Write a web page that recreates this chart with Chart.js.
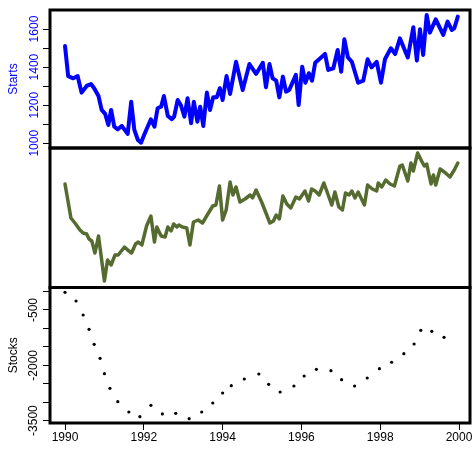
<!DOCTYPE html>
<html>
<head>
<meta charset="utf-8">
<script src="https://cdn.jsdelivr.net/npm/chart.js@4.4.0/dist/chart.umd.min.js"></script>
<style>
  html, body { margin: 0; padding: 0; background: #fff; }
</style>
</head>
<body>
<canvas id="panels" width="474" height="449"></canvas>
<script>
// housing starts (top panel)
var startsYears = [1990.00,1990.08,1990.21,1990.32,1990.42,1990.55,1990.66,1990.74,1990.85,1990.93,
  1991.02,1991.10,1991.17,1991.25,1991.34,1991.44,1991.59,1991.68,1991.76,1991.85,
  1991.93,1992.01,1992.18,1992.27,1992.35,1992.44,1992.51,1992.61,1992.71,1992.77,
  1992.86,1992.94,1993.03,1993.11,1993.20,1993.27,1993.36,1993.43,1993.51,1993.60,
  1993.68,1993.76,1993.85,1993.93,1994.00,1994.10,1994.19,1994.34,1994.51,1994.68,
  1994.85,1995.02,1995.10,1995.19,1995.27,1995.36,1995.44,1995.53,1995.61,1995.69,
  1995.86,1995.93,1996.02,1996.10,1996.19,1996.27,1996.35,1996.60,1996.68,1996.81,
  1996.92,1997.01,1997.09,1997.18,1997.28,1997.44,1997.57,1997.68,1997.78,1997.91,
  1998.02,1998.12,1998.27,1998.38,1998.50,1998.70,1998.84,1998.93,1999.01,1999.09,
  1999.18,1999.26,1999.41,1999.60,1999.71,1999.82,1999.88,1999.97];
var startsValues = [1511,1353,1341,1353,1266,1301,1311,1289,1248,1175,
  1154,1096,1175,1087,1073,1091,1049,1218,1070,1017,
  1003,1044,1126,1087,1184,1192,1248,1143,1126,1140,
  1227,1201,1140,1236,1105,1218,1113,1192,1091,1266,
  1175,1241,1241,1289,1227,1353,1259,1428,1280,1416,
  1364,1423,1294,1416,1341,1329,1241,1350,1271,1280,
  1359,1201,1402,1318,1368,1329,1423,1469,1385,1394,
  1490,1376,1546,1451,1428,1318,1329,1441,1399,1428,
  1318,1441,1499,1469,1551,1451,1609,1434,1599,1464,
  1674,1581,1651,1569,1639,1595,1604,1665];

// middle panel series (no axis shown)
var middleYears = [1990.00,1990.15,1990.27,1990.38,1990.46,1990.55,1990.61,1990.68,1990.76,1990.85,
  1990.93,1991.00,1991.08,1991.17,1991.27,1991.35,1991.51,1991.59,1991.69,1991.79,
  1991.86,1991.95,1992.07,1992.18,1992.27,1992.33,1992.44,1992.54,1992.61,1992.69,
  1992.76,1992.84,1992.89,1992.98,1993.09,1993.17,1993.26,1993.38,1993.49,1993.64,
  1993.75,1993.83,1993.92,1994.00,1994.09,1994.19,1994.26,1994.34,1994.44,1994.57,
  1994.70,1994.76,1994.85,1994.99,1995.20,1995.29,1995.36,1995.44,1995.53,1995.63,
  1995.73,1995.86,1995.95,1996.09,1996.18,1996.26,1996.35,1996.45,1996.57,1996.68,
  1996.77,1996.85,1996.95,1997.04,1997.12,1997.21,1997.28,1997.36,1997.44,1997.60,
  1997.68,1997.80,1997.91,1997.95,1998.04,1998.14,1998.25,1998.36,1998.50,1998.56,
  1998.70,1998.78,1998.84,1998.95,1999.05,1999.12,1999.18,1999.29,1999.35,1999.41,
  1999.52,1999.66,1999.77,1999.88,1999.97];
var middleValues = [103,69,63,57,54,53,48,46,34,51,
  27,6,27,22,32,32,40,37,34,43,
  45,42,61,71,45,60,51,50,60,56,
  63,60,62,60,59,42,65,67,64,74,
  81,82,101,67,77,105,92,100,85,88,
  92,89,97,85,64,66,72,68,91,83,
  79,90,88,96,86,98,96,92,104,92,
  82,95,80,77,94,92,96,89,95,82,
  102,98,96,104,100,107,103,101,121,122,
  106,124,116,134,126,121,123,103,112,102,
  118,114,110,117,124];

// stocks (bottom panel, points)
var stocksYears = [1990.00,1990.28,1990.46,1990.61,1990.74,1990.89,1991.00,1991.14,1991.34,1991.62,
  1991.90,1992.18,1992.47,1992.81,1993.15,1993.47,1993.75,1994.00,1994.22,1994.55,
  1994.92,1995.17,1995.46,1995.81,1996.07,1996.38,1996.75,1997.02,1997.35,1997.67,
  1997.98,1998.29,1998.60,1998.86,1999.03,1999.31,1999.62];
var stocksValues = [-20,-256,-636,-1024,-1431,-1810,-2227,-2624,-2986,-3266,
  -3394,-3085,-3320,-3302,-3448,-3266,-3022,-2751,-2553,-2371,
  -2236,-2515,-2724,-2561,-2290,-2108,-2146,-2390,-2561,-2344,
  -2091,-1918,-1685,-1422,-1051,-1078,-1240];

var yearTicks = [1990, 1992, 1994, 1996, 1998, 2000];
var startsTicks = [1000, 1100, 1200, 1300, 1400, 1500, 1600];
var startsLabels = [1000, 1200, 1400, 1600];
var stocksTicks = [0, -500, -1000, -1500, -2000, -2500, -3000, -3500];
var stocksLabels = [-500, -2000, -3500];

var FONT = 'Liberation Sans, Arial, Helvetica, sans-serif';

function toPoints(xs, ys) {
  var pts = [];
  for (var i = 0; i < xs.length; i++) pts.push({x: xs[i], y: ys[i]});
  return pts;
}

function fixedTicks(list) {
  return function(scale) {
    scale.ticks = list.map(function(v) { return {value: v}; });
  };
}

function setWidth(scale) { scale.width = 50; }

var framePlugin = {
  id: 'frames',
  afterDraw: function(chart) {
    var ctx = chart.ctx;
    var area = chart.chartArea;
    ctx.save();
    ctx.strokeStyle = '#000';
    ctx.lineWidth = 3;
    ['yStarts', 'yMid', 'yStocks'].forEach(function(id) {
      var s = chart.scales[id];
      ctx.strokeRect(area.left, s.top, area.right - area.left, s.bottom - s.top);
    });
    ctx.restore();
  }
};

var ctx = document.getElementById('panels').getContext('2d');
var chart = new Chart(ctx, {
  type: 'line',
  data: {
    datasets: [
      {
        label: 'Starts',
        data: toPoints(startsYears, startsValues),
        yAxisID: 'yStarts',
        borderColor: '#0000ff',
        borderWidth: 4,
        pointRadius: 0,
        tension: 0,
        borderJoinStyle: 'round',
        borderCapStyle: 'round'
      },
      {
        label: 'middle',
        data: toPoints(middleYears, middleValues),
        yAxisID: 'yMid',
        borderColor: '#556b2f',
        borderWidth: 3.5,
        pointRadius: 0,
        tension: 0,
        borderJoinStyle: 'round',
        borderCapStyle: 'round'
      },
      {
        label: 'Stocks',
        data: toPoints(stocksYears, stocksValues),
        yAxisID: 'yStocks',
        showLine: false,
        pointRadius: 1.6,
        pointBorderWidth: 0,
        pointBackgroundColor: '#000',
        borderColor: '#000'
      }
    ]
  },
  options: {
    responsive: false,
    animation: false,
    devicePixelRatio: 1,
    layout: { padding: { left: 0, right: 4, top: 10, bottom: 0 } },
    plugins: { legend: { display: false }, tooltip: { enabled: false } },
    scales: {
      x: {
        type: 'linear',
        position: 'bottom',
        min: 1989.619,
        max: 2000.279,
        afterBuildTicks: fixedTicks(yearTicks),
        afterFit: function(scale) { scale.height = 26; },
        border: { display: false },
        grid: { drawOnChartArea: false, drawTicks: true, tickLength: 7, color: '#000' },
        ticks: {
          color: '#000', padding: 0, minRotation: 0, maxRotation: 0, autoSkip: false,
          font: { family: FONT, size: 12 },
          callback: function(v) { return String(v); }
        }
      },
      yStocks: {
        type: 'linear',
        position: 'left',
        stack: 'panels',
        stackWeight: 135.5,
        min: -3565,
        max: 110,
        afterBuildTicks: fixedTicks(stocksTicks),
        afterFit: setWidth,
        border: { display: false },
        grid: { drawOnChartArea: false, drawTicks: true, tickLength: 7, color: '#000' },
        title: { display: true, text: 'Stocks', color: '#000', font: { family: FONT, size: 12 }, padding: { top: 6, bottom: 0 } },
        ticks: {
          color: '#000', padding: -6, minRotation: 90, maxRotation: 90, crossAlign: 'center', autoSkip: false,
          font: { family: FONT, size: 12 },
          callback: function(v) { return stocksLabels.indexOf(v) >= 0 ? String(v) : ''; }
        }
      },
      yMid: {
        type: 'linear',
        position: 'left',
        stack: 'panels',
        stackWeight: 139.5,
        min: -0.5,
        max: 139,
        afterFit: setWidth,
        border: { display: false },
        grid: { display: false },
        ticks: { display: false }
      },
      yStarts: {
        type: 'linear',
        position: 'left',
        stack: 'panels',
        stackWeight: 138,
        min: 975,
        max: 1700,
        afterBuildTicks: fixedTicks(startsTicks),
        afterFit: setWidth,
        border: { display: false },
        grid: { drawOnChartArea: false, drawTicks: true, tickLength: 7, color: '#000' },
        title: { display: true, text: 'Starts', color: '#0000ff', font: { family: FONT, size: 12 }, padding: { top: 6, bottom: 0 } },
        ticks: {
          color: '#0000ff', padding: -5, minRotation: 90, maxRotation: 90, crossAlign: 'center', autoSkip: false,
          font: { family: FONT, size: 12 },
          callback: function(v) { return startsLabels.indexOf(v) >= 0 ? String(v) : ''; }
        }
      }
    }
  },
  plugins: [framePlugin]
});
</script>
</body>
</html>
